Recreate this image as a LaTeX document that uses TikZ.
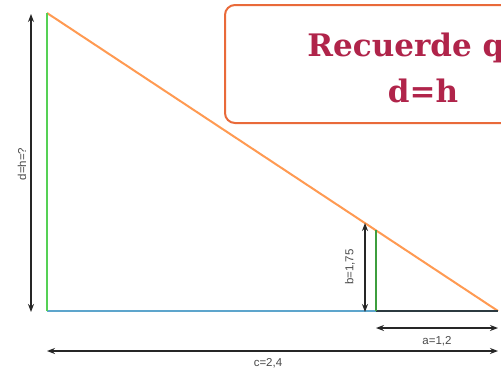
\documentclass[tikz,border=0pt]{standalone}
\usepackage{fontspec}
\setmainfont{Liberation Sans}
\newfontfamily\titlefont{DejaVu Serif}
\usetikzlibrary{arrows.meta}
\definecolor{lgreen}{HTML}{55D155}
\definecolor{dgreen}{HTML}{3E9E3E}
\definecolor{lorange}{HTML}{FF9A52}
\definecolor{lblue}{HTML}{5DA5CC}
\definecolor{dbase}{HTML}{2C3A40}
\definecolor{boxorange}{HTML}{E96A3A}
\definecolor{crimson}{HTML}{B0244A}
\definecolor{lblgray}{HTML}{4A4A4A}
\begin{document}
\begin{tikzpicture}[x=1pt,y=-1pt,
  dimarrow/.style={draw=black!85,line width=1.5pt,{Stealth[length=8pt,width=6pt]}-{Stealth[length=8pt,width=6pt]}},
  dimlabel/.style={font=\fontsize{11.5}{13}\selectfont,text=lblgray,inner sep=0pt},
  seg/.style={line width=2pt}]
\useasboundingbox (0,0) rectangle (501,370);
\fill[white] (0,0) rectangle (501,370);
% points
\coordinate (A) at (47,13);
\coordinate (B) at (47,311);
\coordinate (C) at (498,311);
\coordinate (D) at (376,311);
\coordinate (E) at (376,230.4);
% triangle sides
\draw[seg,lorange] (A) -- (C);
\draw[seg,lblue] (B) -- (D);
\draw[seg,dbase] (D) -- (C);
\draw[seg,lgreen] (A) -- (B);
\draw[seg,dgreen] (E) -- (D);
% dimension arrows
\coordinate (d1) at (31,14);
\coordinate (d2) at (31,312);
\draw[dimarrow] (d1) -- (d2);
\node[dimlabel,rotate=90] (dl) at (22,164) {d=h=?};
\coordinate (b1) at (365,223);
\coordinate (b2) at (365,312);
\draw[dimarrow] (b1) -- (b2);
\node[dimlabel,rotate=90] (bl) at (350,267) {b=1,75};
\coordinate (a1) at (376,328);
\coordinate (a2) at (498,328);
\draw[dimarrow] (a1) -- (a2);
\node[dimlabel] (al) at (437,341) {a=1,2};
\coordinate (c1) at (47,351);
\coordinate (c2) at (498,351);
\draw[dimarrow] (c1) -- (c2);
\node[dimlabel] (cl) at (268,363) {c=2,4};
% note box
\begin{scope}
\clip (0,0) rectangle (501,370);
\draw[boxorange,line width=2pt,rounded corners=10pt,fill=white] (225,5) rectangle (621,123);
\node[text=crimson,font=\titlefont\bfseries\fontsize{31}{46}\selectfont,align=center,anchor=base] (t1) at (427,56) {Recuerde que};
\node[text=crimson,font=\titlefont\bfseries\fontsize{31}{46}\selectfont,align=center,anchor=base] (t2) at (423,102) {d=h};
\end{scope}
\end{tikzpicture}
\end{document}
